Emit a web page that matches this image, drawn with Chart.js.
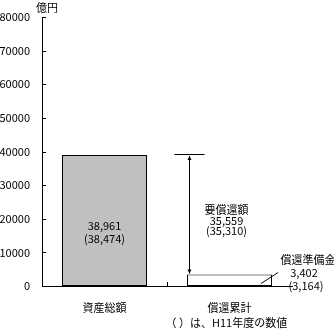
<!DOCTYPE html>
<html>
<head>
<meta charset="utf-8">
<script src="https://cdn.jsdelivr.net/npm/chart.js@4"></script>
<style>
  html, body { margin: 0; padding: 0; background: #fff; }
  canvas { display: block; }
</style>
</head>
<body>
<canvas id="myChart" width="334" height="333"></canvas>
<script>
const categories = ["資産総額", "償還累計"];
const values = [38961, 3402];
const prevValues = [38474, 3164];
const yTicks = [0, 10000, 20000, 30000, 40000, 50000, 60000, 70000, 80000];
const unitLabel = "億円";
const footnote = "（ ）は、H11年度の数値";
const requiredLabel = "要償還額";
const reserveLabel = "償還準備金";

const FONT = "'Noto Sans CJK JP', sans-serif";
const fmt = (v) => v.toLocaleString("en-US");

const extras = {
  id: "extras",
  afterDraw(chart) {
    const { ctx, chartArea: a, scales } = chart;
    const x = scales.x;
    const y = scales.y;
    ctx.save();
    ctx.strokeStyle = "#000";
    ctx.lineWidth = 1;

    // inward tick marks
    ctx.beginPath();
    yTicks.forEach((t) => {
      const py = Math.round(y.getPixelForValue(t)) + 0.5;
      ctx.moveTo(a.left, py);
      ctx.lineTo(a.left + 4, py);
    });
    const bx = Math.round((x.getPixelForValue(0) + x.getPixelForValue(1)) / 2) + 0.5;
    ctx.moveTo(bx, a.bottom);
    ctx.lineTo(bx, a.bottom - 4);
    ctx.stroke();

    ctx.fillStyle = "#000";
    ctx.font = "11px " + FONT;
    ctx.textAlign = "center";
    ctx.textBaseline = "middle";

    // unit
    ctx.fillText(unitLabel, a.left + 5, a.top - 9);

    // value inside bar 1
    const x0 = x.getPixelForValue(0);
    const mid0 = y.getPixelForValue(values[0] / 2);
    ctx.fillText(fmt(values[0]), x0, mid0 + 5);
    ctx.fillText("(" + fmt(prevValues[0]) + ")", x0, mid0 + 18);

    // required repayment arrow
    const meta = chart.getDatasetMeta(0);
    const bar2 = meta.data[1];
    const barLeft = bar2.x - bar2.width / 2;
    const ax = Math.round(barLeft) + 2.5;
    const yTop = y.getPixelForValue(values[0]);
    const yBot = y.getPixelForValue(values[1]);
    ctx.beginPath();
    ctx.moveTo(ax - 15, Math.round(yTop) - 0.5);
    ctx.lineTo(ax + 15, Math.round(yTop) - 0.5);
    ctx.moveTo(ax, yTop + 1);
    ctx.lineTo(ax, yBot - 1);
    ctx.stroke();
    ctx.beginPath();
    ctx.moveTo(ax, yTop + 1);
    ctx.lineTo(ax - 2, yTop + 5);
    ctx.lineTo(ax + 2, yTop + 5);
    ctx.closePath();
    ctx.moveTo(ax, yBot - 1);
    ctx.lineTo(ax - 2, yBot - 5);
    ctx.lineTo(ax + 2, yBot - 5);
    ctx.closePath();
    ctx.fill();

    const required = values[0] - values[1];
    const requiredPrev = prevValues[0] - prevValues[1];
    const ry = y.getPixelForValue((values[0] + values[1]) / 2);
    const rx = bar2.x - 3;
    ctx.fillText(requiredLabel, rx, ry - 5);
    ctx.fillText(fmt(required), rx, ry + 6);
    ctx.fillText("(" + fmt(requiredPrev) + ")", rx, ry + 16);

    // reserve leader and label
    const barRight = bar2.x + bar2.width / 2;
    ctx.beginPath();
    ctx.moveTo(barRight - 11, yBot + 9);
    ctx.lineTo(barRight + 6, yBot - 2);
    ctx.stroke();
    ctx.fillText(reserveLabel, barRight + 36, yBot - 15);
    ctx.fillText(fmt(values[1]), barRight + 32, yBot - 2);
    ctx.fillText("(" + fmt(prevValues[1]) + ")", barRight + 34, yBot + 11);

    // footnote
    ctx.textAlign = "left";
    ctx.fillText(footnote, bx - 2, a.bottom + 37);
    ctx.restore();
  },
};

new Chart(document.getElementById("myChart"), {
  type: "bar",
  data: {
    labels: categories,
    datasets: [
      {
        data: values,
        backgroundColor: ["#c0c0c0", "#ffffff"],
        borderColor: "#000",
        borderWidth: 1,
        borderSkipped: false,
        barPercentage: 0.68,
        categoryPercentage: 1,
      },
    ],
  },
  options: {
    responsive: false,
    animation: false,
    devicePixelRatio: 1,
    layout: { padding: { top: 17, right: 42, left: 0, bottom: 0 } },
    plugins: { legend: { display: false }, tooltip: { enabled: false } },
    scales: {
      x: {
        grid: { display: false },
        border: { color: "#000", width: 1 },
        ticks: { color: "#000", font: { family: FONT, size: 11 }, padding: 7 },
        afterFit: (s) => { s.height = 47; },
      },
      y: {
        min: 0,
        max: 80000,
        afterBuildTicks: (s) => { s.ticks = yTicks.map((v) => ({ value: v })); },
        grid: { display: false },
        border: { color: "#000", width: 1 },
        ticks: { color: "#000", font: { family: FONT, size: 11 }, padding: 4, callback: (v) => String(v) },
        afterFit: (s) => { s.width = 42; },
      },
    },
  },
  plugins: [extras],
});
</script>
</body>
</html>
